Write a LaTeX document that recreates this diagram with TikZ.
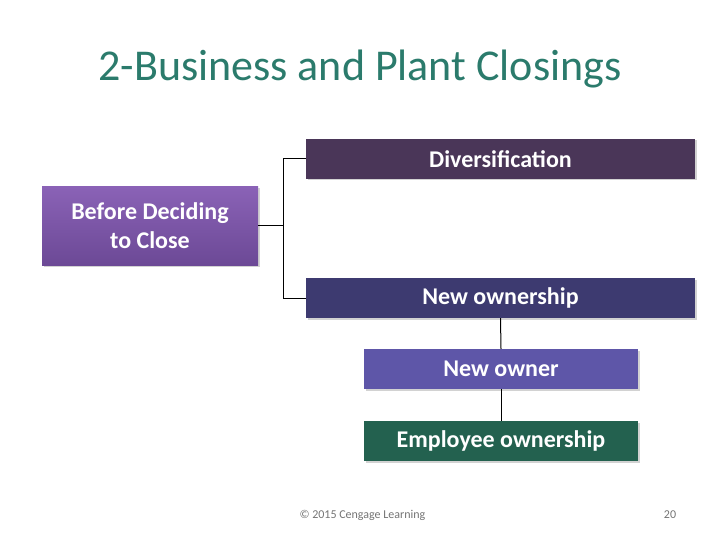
\documentclass[tikz,border=0pt]{standalone}
\usepackage{fontspec}
\setmainfont{Carlito}
\usetikzlibrary{shadows}
\definecolor{titlecol}{HTML}{2B7B6C}
\definecolor{c1}{HTML}{7B56A8}
\definecolor{c1t}{HTML}{8A62B6}
\definecolor{c1b}{HTML}{6C4996}
\definecolor{c2}{HTML}{4A3658}
\definecolor{c3}{HTML}{3D3A70}
\definecolor{c4}{HTML}{5E56A8}
\definecolor{c5}{HTML}{23614F}
\tikzset{
  box/.style={draw=none, text=white, font=\bfseries\fontsize{24}{29}\selectfont, align=center,
    inner sep=0pt, drop shadow={shadow xshift=1.5pt, shadow yshift=-1.5pt, fill=black!35, opacity=0.5}},
  conn/.style={draw=black, line width=1pt}
}
\begin{document}
\begin{tikzpicture}[x=1pt,y=-1pt]
\useasboundingbox (0,0) rectangle (720,540);
\node[font=\fontsize{44}{50}\selectfont, text=titlecol] (title) at (360,69) {2-Business and Plant Closings};
\node[box, top color=c1t, bottom color=c1b, minimum width=216pt, minimum height=78pt] (before) at (150,226) {Before Deciding\\to Close};
\node[box, fill=c2, minimum width=389pt, minimum height=40pt] (div) at (500.5,159) {Diversification};
\node[box, fill=c3, minimum width=389pt, minimum height=40pt] (newown) at (500.5,298) {New ownership};
\node[box, fill=c4, minimum width=274pt, minimum height=40pt] (owner) at (501,369) {New owner};
\node[box, fill=c5, minimum width=274pt, minimum height=40pt] (emp) at (501,441) {Employee ownership};
\coordinate (j) at (283,226);
\draw[conn] (before.east) -- (j) |- (div.west);
\draw[conn] (j) |- (newown.west);
\draw[conn] (newown.south) -- (owner.north);
\draw[conn] (owner.south) -- (emp.north);
\node[font=\fontsize{12}{14}\selectfont, text=black!55, anchor=west] (copy) at (296,515) {© 2015 Cengage Learning};
\node[font=\fontsize{12}{14}\selectfont, text=black!55] (num) at (670,515) {20};
\end{tikzpicture}
\end{document}
